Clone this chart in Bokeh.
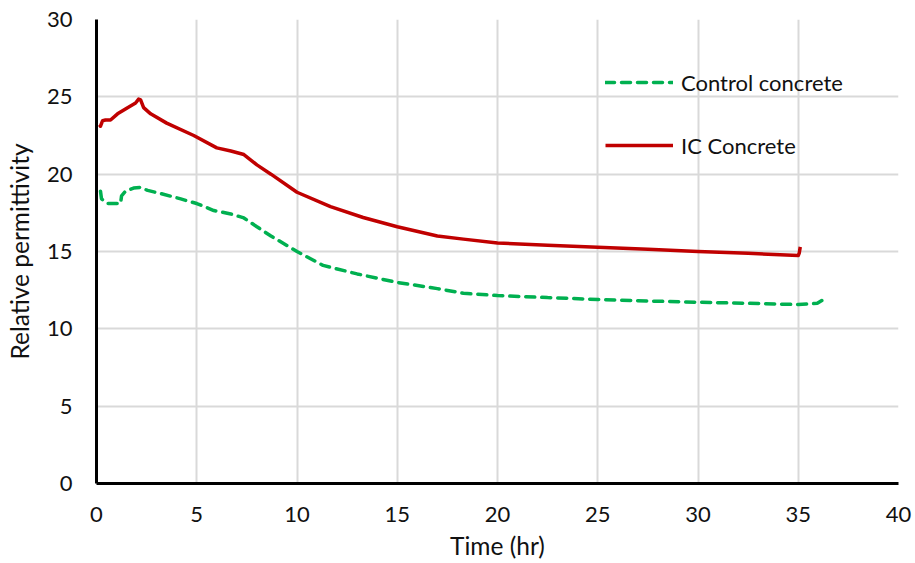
from bokeh.plotting import figure
from bokeh.models import Range1d, FixedTicker, Legend, LegendItem
from bokeh.embed import file_html
from bokeh.resources import INLINE

# Control concrete (green dashed)
ctrl_t = [0.2, 0.25, 0.55, 0.85, 1.2, 1.25, 1.45, 1.85, 2.2, 2.55, 3.2, 4.2, 5.0, 5.85, 6.7, 7.35,
          8.0, 8.7, 10.0, 11.3, 13.0, 15.0, 17.0, 18.3, 20.0, 22.5, 25.0, 27.5, 30.0, 32.5, 35.0, 35.95, 36.2]
ctrl_v = [18.9, 18.4, 18.1, 18.1, 18.1, 18.6, 18.9, 19.1, 19.15, 18.95, 18.75, 18.4, 18.1, 17.65, 17.43, 17.17,
          16.6, 16.0, 15.0, 14.1, 13.55, 13.0, 12.6, 12.3, 12.15, 12.02, 11.9, 11.8, 11.72, 11.65, 11.57, 11.65, 11.85]

# IC Concrete (red solid)
ic_t = [0.15, 0.2, 0.3, 0.45, 0.7, 1.05, 1.55, 1.95, 2.1, 2.2, 2.35, 2.7, 3.5, 4.85, 6.0, 6.7, 7.35,
        8.0, 8.7, 10.0, 11.67, 13.3, 15.0, 17.0, 18.3, 20.0, 22.5, 25.0, 27.5, 30.0, 32.5, 35.0, 35.05, 35.1]
ic_v = [23.2, 23.1, 23.45, 23.5, 23.5, 23.9, 24.3, 24.6, 24.85, 24.8, 24.3, 23.9, 23.3, 22.5, 21.7, 21.5, 21.27,
        20.6, 20.0, 18.83, 17.9, 17.2, 16.6, 16.0, 15.8, 15.55, 15.4, 15.28, 15.15, 15.0, 14.88, 14.74, 14.9, 15.3]

x_ticks = [0, 5, 10, 15, 20, 25, 30, 35, 40]
y_ticks = [0, 5, 10, 15, 20, 25, 30]
x_title = "Time (hr)"
y_title = "Relative permittivity"

FONT = "Lato"
TXT = "#111111"

p = figure(width=914, height=562, output_backend="svg", toolbar_location=None,
           x_range=Range1d(0, 40), y_range=Range1d(0, 30),
           min_border_left=96, min_border_right=16, min_border_top=19, min_border_bottom=79)
p.outline_line_color = None
p.background_fill_color = "white"
p.border_fill_color = "white"

for ax in (p.xaxis[0], p.yaxis[0]):
    ax.axis_line_color = "black"
    ax.axis_line_width = 3
    ax.major_tick_line_color = None
    ax.minor_tick_line_color = None
    ax.major_label_text_font = FONT
    ax.major_label_text_font_size = "22px"
    ax.major_label_text_color = TXT
    ax.axis_label_text_font = FONT
    ax.axis_label_text_font_size = "24.5px"
    ax.axis_label_text_font_style = "normal"
    ax.axis_label_text_color = TXT

p.xaxis.ticker = FixedTicker(ticks=x_ticks)
p.yaxis.ticker = FixedTicker(ticks=y_ticks)
p.xaxis.axis_label = x_title
p.yaxis.axis_label = y_title
p.xaxis.major_label_standoff = 17
p.xaxis.axis_label_standoff = 6
p.yaxis.major_label_standoff = 18
p.yaxis.axis_label_standoff = 10

p.xgrid.ticker = FixedTicker(ticks=x_ticks)
p.ygrid.ticker = FixedTicker(ticks=y_ticks)
for g in (p.xgrid[0], p.ygrid[0]):
    g.grid_line_color = "#d9d9d9"
    g.grid_line_width = 2

r_ctrl = p.line(ctrl_t, ctrl_v, line_color="#00B050", line_width=3.5, line_dash="9 7", line_cap="round")
r_ic = p.line(ic_t, ic_v, line_color="#C00000", line_width=3.5, line_join="round")

legend = Legend(items=[LegendItem(label="Control concrete", renderers=[r_ctrl]),
                       LegendItem(label="IC Concrete", renderers=[r_ic])],
                location=(509, 324), orientation="vertical",
                glyph_width=68, glyph_height=28, label_height=28,
                label_standoff=8, spacing=35, padding=0, margin=0,
                label_text_font=FONT, label_text_font_size="22px", label_text_color=TXT,
                background_fill_alpha=0, border_line_color=None)
p.add_layout(legend)

open("out.html", "w").write(file_html(p, INLINE))
